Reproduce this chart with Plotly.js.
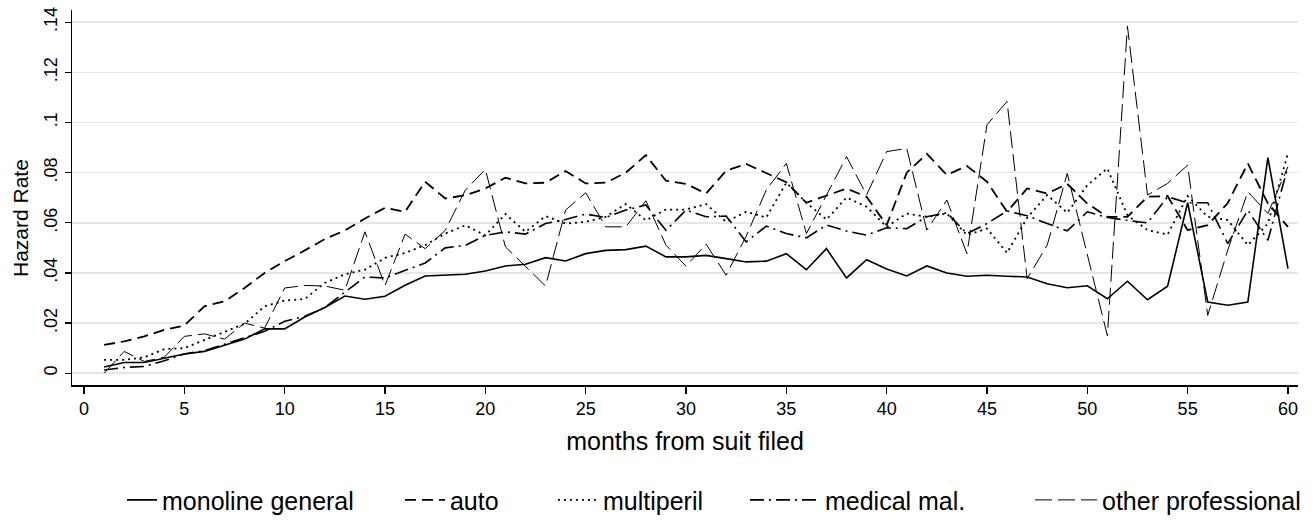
<!DOCTYPE html>
<html>
<head>
<meta charset="utf-8">
<script src="https://cdn.plot.ly/plotly-3.0.1.min.js"></script>
<style>html,body{margin:0;padding:0;background:#fff;}#chart{width:1315px;height:520px;}</style>
</head>
<body>
<div id="chart"></div>
<script>
// months from suit filed
const months = [];
for (let m = 1; m <= 60; m++) months.push(m);

const seriesNames = ["monoline general", "auto", "multiperil", "medical mal.", "other professional"];

const monoline = [0.0025,0.0043,0.0043,0.0060,0.0077,0.0087,0.0113,0.0136,0.0177,0.0177,
  0.0224,0.0262,0.0308,0.0295,0.0307,0.0351,0.0388,0.0393,0.0395,0.0408,
  0.0428,0.0435,0.0461,0.0448,0.0477,0.0490,0.0493,0.0507,0.0464,0.0464,
  0.0470,0.0457,0.0444,0.0447,0.0477,0.0413,0.0497,0.0380,0.0453,0.0416,
  0.0388,0.0428,0.0400,0.0387,0.0391,0.0387,0.0384,0.0357,0.0341,0.0349,
  0.0297,0.0367,0.0293,0.0347,0.0680,0.0284,0.0271,0.0284,0.0860,0.0417];

const auto = [0.0113,0.0127,0.0147,0.0173,0.0190,0.0267,0.0287,0.0340,0.0400,0.0447,
  0.0490,0.0535,0.0570,0.0617,0.0660,0.0644,0.0764,0.0697,0.0710,0.0737,
  0.0780,0.0757,0.0760,0.0807,0.0757,0.0760,0.0800,0.0870,0.0768,0.0755,
  0.0717,0.0808,0.0835,0.0797,0.0762,0.0680,0.0707,0.0737,0.0704,0.0591,
  0.0800,0.0875,0.0791,0.0827,0.0764,0.0644,0.0737,0.0717,0.0755,0.0677,
  0.0624,0.0624,0.0704,0.0707,0.0571,0.0591,0.0679,0.0837,0.0677,0.0584];

const multiperil = [0.0053,0.0053,0.0064,0.0096,0.0100,0.0133,0.0163,0.0197,0.0267,0.0290,
  0.0296,0.0360,0.0395,0.0413,0.0460,0.0480,0.0511,0.0557,0.0590,0.0550,
  0.0635,0.0564,0.0627,0.0597,0.0604,0.0624,0.0675,0.0610,0.0653,0.0653,
  0.0675,0.0604,0.0644,0.0621,0.0760,0.0680,0.0613,0.0701,0.0664,0.0584,
  0.0637,0.0624,0.0637,0.0551,0.0577,0.0480,0.0620,0.0711,0.0640,0.0750,
  0.0817,0.0630,0.0571,0.0553,0.0707,0.0624,0.0611,0.0511,0.0597,0.0877];

const medicalMal = [0.0013,0.0023,0.0027,0.0050,0.0077,0.0090,0.0116,0.0140,0.0167,0.0207,
  0.0227,0.0262,0.0324,0.0384,0.0380,0.0410,0.0440,0.0500,0.0510,0.0550,
  0.0564,0.0555,0.0597,0.0613,0.0635,0.0621,0.0651,0.0671,0.0570,0.0651,
  0.0624,0.0627,0.0524,0.0587,0.0557,0.0540,0.0591,0.0567,0.0551,0.0580,
  0.0577,0.0624,0.0640,0.0557,0.0597,0.0647,0.0628,0.0597,0.0568,0.0644,
  0.0621,0.0610,0.0600,0.0704,0.0680,0.0680,0.0517,0.0650,0.0530,0.0824];

const otherProf = [0.0000,0.0087,0.0047,0.0064,0.0147,0.0157,0.0136,0.0200,0.0180,0.0340,
  0.0350,0.0348,0.0331,0.0564,0.0350,0.0555,0.0497,0.0570,0.0730,0.0813,
  0.0504,0.0424,0.0348,0.0651,0.0720,0.0584,0.0584,0.0688,0.0511,0.0427,
  0.0515,0.0391,0.0547,0.0731,0.0837,0.0557,0.0711,0.0864,0.0711,0.0884,
  0.0897,0.0571,0.0691,0.0477,0.0991,0.1084,0.0377,0.0511,0.0797,0.0477,
  0.0150,0.1384,0.0711,0.0757,0.0830,0.0231,0.0491,0.0724,0.0637,0.0824];

const xTickVals = [0,5,10,15,20,25,30,35,40,45,50,55,60];
const yTickVals = [0,0.02,0.04,0.06,0.08,0.10,0.12,0.14];
const yTickText = ["0",".02",".04",".06",".08",".1",".12",".14"];

const FONT = "Liberation Sans, Arial, Helvetica, sans-serif";

const styles = [
  {width:1.6, dash:"solid"},
  {width:1.8, dash:"11px,6px"},
  {width:1.8, dash:"2px,4px"},
  {width:1.6, dash:"14px,5px,2px,5px"},
  {width:1.0, dash:"17px,6px"}
];
const values = [monoline, auto, multiperil, medicalMal, otherProf];
const legendIds = ["legend","legend2","legend3","legend4","legend5"];

const traces = values.map((v,i) => ({
  x: months, y: v, type: "scatter", mode: "lines",
  name: seriesNames[i],
  line: {color: "#000", width: styles[i].width, dash: styles[i].dash},
  legend: legendIds[i],
  hoverinfo: "skip"
}));

function leg(x, iw) {
  return {x: x, xanchor: "left", y: -0.307, yanchor: "middle", orientation: "h",
    font: {family: FONT, size: 25, color: "#000"}, itemwidth: iw,
    bgcolor: "rgba(0,0,0,0)", borderwidth: 0};
}

const layout = {
  width: 1315, height: 520,
  margin: {l: 72, r: 17, t: 10, b: 135, autoexpand: false},
  paper_bgcolor: "#fff", plot_bgcolor: "#fff",
  font: {family: FONT, size: 18, color: "#000"},
  showlegend: true,
  legend: leg(0.0408, 30),
  legend2: leg(0.2675, 40),
  legend3: leg(0.3923, 40),
  legend4: leg(0.5489, 70),
  legend5: leg(0.7814, 62),
  xaxis: {
    range: [-0.6, 60.5], tickvals: xTickVals, ticks: "outside", ticklen: 7, tickwidth: 1.3,
    tickcolor: "#000", showgrid: false, zeroline: false, showline: true, linecolor: "#000", linewidth: 1.5,
    tickfont: {family: FONT, size: 18, color: "#000"},
    title: {text: "months from suit filed", font: {family: FONT, size: 25, color: "#000"}, standoff: 14}
  },
  yaxis: {
    range: [-0.0047, 0.1449], tickvals: yTickVals, ticktext: yTickText, tickangle: -90,
    ticks: "outside", ticklen: 6, tickwidth: 1.3, tickcolor: "#000",
    showgrid: true, gridcolor: "#e6e6e6", gridwidth: 1.6, zeroline: false,
    showline: true, linecolor: "#000", linewidth: 1.5,
    tickfont: {family: FONT, size: 18, color: "#000"}
  },
  annotations: [{
    text: "Hazard Rate", textangle: -90, showarrow: false,
    xref: "paper", yref: "paper", x: -0.0424, y: 0.4453, xanchor: "center", yanchor: "middle",
    font: {family: FONT, size: 21, color: "#000"}
  }]
};

Plotly.newPlot("chart", traces, layout, {displayModeBar: false, staticPlot: true});
</script>
</body>
</html>
